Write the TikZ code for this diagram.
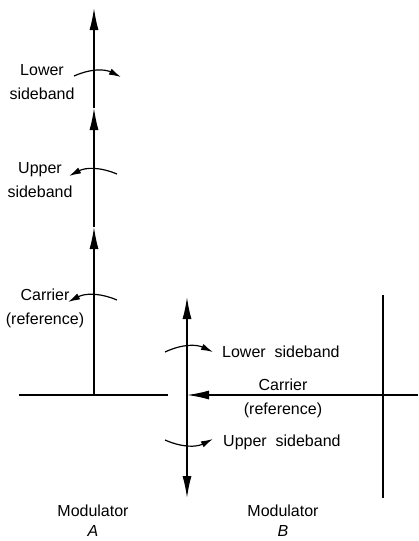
\documentclass[tikz,border=0pt]{standalone}
\usepackage{fontspec}
\setmainfont{Liberation Sans}
\usetikzlibrary{arrows.meta,positioning}

\begin{document}
\begin{tikzpicture}[x=1pt,y=-1pt,font=\fontsize{16}{24}\selectfont,
  vec/.style={-{Latex[length=22pt,width=9pt]},line width=1.4pt},
  rot/.style={-{Latex[length=12pt,width=6.5pt]},line width=1.2pt},
  ax/.style={line width=1.4pt},
  lbl/.style={align=center,inner sep=0pt}]
\useasboundingbox (0,0) rectangle (418,541);
% modulator A
\coordinate (oA) at (94,395); \coordinate (cA) at (94,227);
\coordinate (uA) at (94,108); \coordinate (lA) at (94,8);
\coordinate (bA0) at (19,395); \coordinate (bA1) at (168,395);
\draw[ax] (bA0)--(bA1);
\draw[vec] (oA)--(cA); \draw[vec] (cA)--(uA); \draw[vec] (uA)--(lA);
\coordinate (lsA0) at (74,76); \coordinate (lsA1) at (121,77);
\coordinate (usA0) at (117,174); \coordinate (usA1) at (69,176);
\coordinate (crA0) at (117,300); \coordinate (crA1) at (68,302);
\draw[rot] (lsA0) to[bend left=25] (lsA1);
\draw[rot] (usA0) to[bend right=25] (usA1);
\draw[rot] (crA0) to[bend right=25] (crA1);
\node[lbl] (lsbA) at (42,82) {Lower\\sideband};
\node[lbl] (usbA) at (40,180) {Upper\\sideband};
\node[lbl] (carA) at (45,308) {Carrier\\(reference)};
\node[lbl] (modA) at (93,521) {Modulator\\[-4pt]\textit{A}};
% modulator B
\coordinate (oB) at (187,395); \coordinate (tB) at (187,297);
\coordinate (dB) at (187,498); \coordinate (eB) at (418,395);
\coordinate (vB0) at (383,295); \coordinate (vB1) at (383,498);
\draw[vec] (oB)--(tB); \draw[vec] (oB)--(dB); \draw[vec] (eB)--(oB);
\draw[ax] (vB0)--(vB1);
\coordinate (lsB0) at (165,352); \coordinate (lsB1) at (213,352);
\coordinate (usB0) at (165,440); \coordinate (usB1) at (213,439);
\draw[rot] (lsB0) to[bend left=25] (lsB1);
\draw[rot] (usB0) to[bend right=25] (usB1);
\node[lbl,anchor=west] (lsbB) at (222,352) {Lower\ \ sideband};
\node[lbl] (carB) at (283,398) {Carrier\\(reference)};
\node[lbl,anchor=west] (usbB) at (223,442) {Upper\ \ sideband};
\node[lbl] (modB) at (283,521) {Modulator\\[-4pt]\textit{B}};
\end{tikzpicture}
\end{document}
